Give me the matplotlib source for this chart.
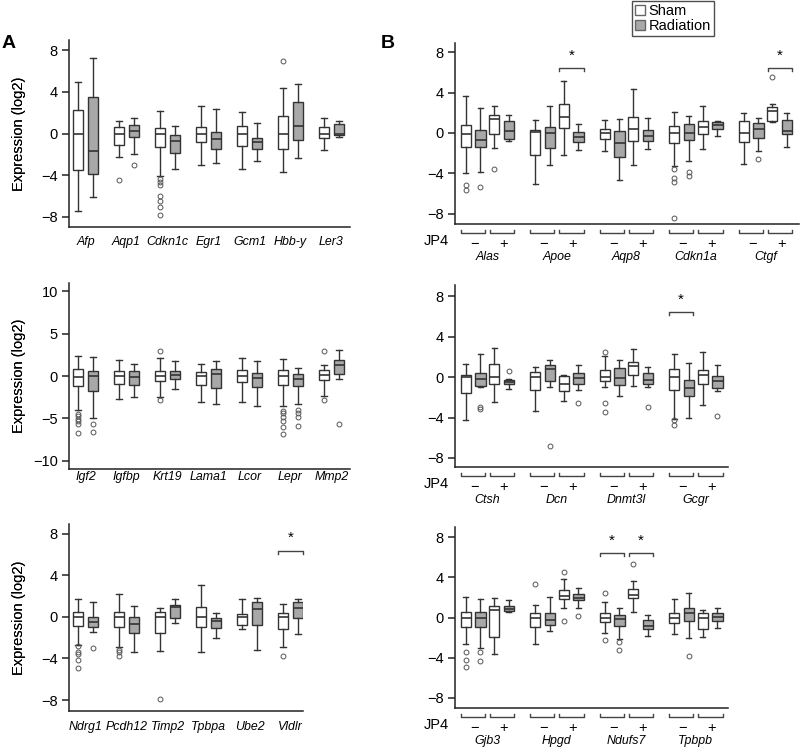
import numpy as np
import matplotlib
matplotlib.use("Agg")
import matplotlib.pyplot as plt
from matplotlib.patches import Patch
from matplotlib.transforms import blended_transform_factory

plt.rcParams['font.family'] = ['Liberation Sans', 'DejaVu Sans']

# ---- data: (whisker low, q1, median, q3, whisker high) ----
a1_genes = ["Afp", "Aqp1", "Cdkn1c", "Egr1", "Gcm1", "Hbb-y", "Ler3"]
a1_sham = [(-7.5, -3.5, 0, 2.3, 5.0), (-2.3, -1.06, 0, 0.64, 1.2), (-4.1, -1.34, 0, 0.5, 2.2),
           (-3.0, -0.86, 0, 0.6, 2.6), (-3.46, -1.18, 0, 0.74, 2.1), (-3.74, -1.5, 0, 1.7, 4.4),
           (-1.6, -0.42, 0, 0.64, 1.5)]
a1_sham_out = [[], [-4.45], [-4.4, -4.7, -5.0, -6.0, -6.5, -7.1, -7.8], [], [], [7.0], []]
a1_rad = [(-6.1, -3.9, -1.7, 3.5, 7.3), (-2.0, -0.32, 0.26, 0.86, 1.5), (-3.46, -1.9, -0.74, -0.1, 0.7),
          (-2.8, -1.54, -0.54, 0.16, 2.37), (-2.66, -1.5, -0.83, -0.42, 1.0), (-2.34, -0.58, 0.74, 3.0, 4.8),
          (-0.38, -0.16, -0.06, 0.9, 1.25)]
a1_rad_out = [[], [-3.04], [], [], [], [], []]

a2_genes = ["Igf2", "Igfbp", "Krt19", "Lama1", "Lcor", "Lepr", "Mmp2"]
a2_sham = [(-4.04, -1.18, -0.08, 0.78, 2.35), (-2.75, -0.9, 0, 0.63, 1.92), (-2.47, -0.63, 0, 0.55, 2.16),
           (-3.1, -1.02, 0, 0.47, 1.41), (-3.06, -0.75, 0, 0.75, 2.16), (-3.57, -1.02, 0, 0.7, 2.04),
           (-2.4, -0.5, 0.16, 0.75, 1.33)]
a2_sham_out = [[-4.5, -4.7, -5.1, -5.3, -5.7, -6.7], [], [2.94, -2.82], [], [],
               [-4.16, -4.35, -4.8, -5.3, -6.0, -6.8], [2.98, -2.86]]
a2_rad = [(-4.9, -1.76, -0.04, 0.55, 2.24), (-2.47, -1.1, -0.12, 0.59, 1.45), (-1.5, -0.31, 0.16, 0.55, 1.76),
          (-3.25, -1.41, 0.2, 0.78, 1.76), (-3.5, -1.3, -0.27, 0.35, 1.8), (-3.25, -1.18, -0.35, 0.27, 1.0),
          (-0.35, 0.27, 1.3, 1.92, 3.06)]
a2_rad_out = [[-5.6, -6.6], [], [], [], [], [-4.0, -4.35, -4.86, -5.84], [-5.7]]

a3_genes = ["Ndrg1", "Pcdh12", "Timp2", "Tpbpa", "Ube2", "Vldlr"]
a3_sham = [(-2.73, -0.84, 0, 0.51, 1.77), (-2.93, -0.93, 0, 0.51, 2.2), (-3.28, -1.58, 0, 0.48, 0.9),
           (-3.34, -0.96, 0, 0.93, 3.09), (-1.19, -0.8, 0, 0.26, 1.7), (-2.9, -1.19, 0, 0.42, 1.22)]
a3_sham_out = [[-2.8, -3.4, -3.57, -4.15, -4.9], [-3.2, -3.35, -3.8], [-7.94], [], [], [-3.8]]
a3_rad = [(-1.48, -1.0, -0.48, 0.03, 1.45), (-3.34, -1.58, -0.64, 0.03, 1.03), (-0.55, -0.13, 1.0, 1.19, 1.77),
          (-2.0, -1.03, -0.42, -0.06, 0.42), (-3.2, -0.74, 0.74, 1.48, 1.8), (-1.67, -0.1, 0.9, 1.48, 1.77)]
a3_rad_out = [[-3.0], [], [], [], [], []]
a3_sig = ["Vldlr"]

b1_genes = ["Alas", "Apoe", "Aqp8", "Cdkn1a", "Ctgf"]
b1_sham_neg = [(-3.95, -1.38, -0.07, 0.79, 3.62), (-5.03, -2.17, 0.1, 0.26, 1.32), (-1.74, -0.56, 0, 0.39, 1.28),
               (-3.29, -0.99, 0, 0.66, 2.1), (-3.06, -0.89, 0, 1.15, 1.97)]
b1_sham_neg_out = [[-5.1, -5.6], [], [], [-3.6, -4.4, -4.8, -8.4], []]
b1_rad_neg = [(-3.9, -1.38, -0.66, 0.26, 2.47), (-3.13, -1.45, 0, 0.63, 2.66), (-4.6, -2.37, -0.99, 0.16, 1.41),
              (-2.76, -0.69, 0, 0.92, 1.71), (-1.81, -0.49, 0.39, 0.99, 1.48)]
b1_rad_neg_out = [[-5.3], [], [], [-3.85, -4.28], [-2.57]]
b1_sham_pos = [(-1.48, -0.07, 1.38, 1.74, 2.63), (-2.14, 0.49, 1.55, 2.86, 5.16), (-3.16, -0.76, 0.39, 1.58, 4.34),
               (-1.55, -0.13, 0.59, 1.22, 2.7), (1.05, 1.15, 2.14, 2.57, 2.86)]
b1_sham_pos_out = [[-3.55], [], [], [], [5.49]]
b1_rad_pos = [(-0.82, -0.56, 0.23, 1.22, 1.74), (-1.71, -0.89, -0.36, 0.13, 0.89), (-1.55, -0.82, -0.26, 0.26, 1.48),
              (-0.3, 0.36, 0.79, 1.09, 1.22), (-1.41, -0.13, 0.23, 1.25, 1.97)]
b1_rad_pos_out = [[], [], [], [], []]
b1_sig = [("Apoe", "+"), ("Ctgf", "+")]

b2_genes = ["Ctsh", "Dcn", "Dnmt3l", "Gcgr"]
b2_sham_neg = [(-4.28, -1.58, 0, 0.23, 1.32), (-3.39, -1.32, 0, 0.49, 0.99), (-0.99, -0.43, 0, 0.66, 2.1),
               (-4.11, -1.25, 0, 0.76, 2.3)]
b2_sham_neg_out = [[], [], [2.47, -2.57, -3.49], [-4.28, -4.77]]
b2_rad_neg = [(-0.99, -0.89, -0.16, 0.43, 2.3), (-0.99, -0.39, 0.79, 1.18, 1.71), (-1.84, -0.82, -0.07, 0.89, 1.64),
              (-4.01, -1.91, -1.05, -0.26, 1.41)]
b2_rad_neg_out = [[-2.96, -3.13], [-6.8], [], []]
b2_sham_pos = [(-2.47, -0.66, 0, 1.32, 2.9), (-2.37, -1.38, -0.66, 0.07, 0.23), (-0.86, 0.16, 1.09, 1.51, 2.73),
               (-2.73, -0.72, 0.23, 0.72, 2.43)]
b2_sham_pos_out = [[], [], [], []]
b2_rad_pos = [(-1.22, -0.66, -0.49, -0.26, -0.2), (-1.32, -0.66, -0.13, 0.39, 1.18), (-0.95, -0.66, -0.26, 0.43, 0.99),
              (-1.38, -1.12, -0.43, 0.07, 1.18)]
b2_rad_pos_out = [[0.59], [-2.53], [-2.96], [-3.85]]
b2_sig = [("Gcgr", "-")]

b3_genes = ["Gjb3", "Hpgd", "Ndufs7", "Tpbpb"]
b3_sham_neg = [(-2.64, -0.92, 0, 0.56, 2.05), (-2.67, -0.92, 0, 0.4, 1.29), (-1.58, -0.43, 0, 0.46, 1.58),
               (-1.65, -0.59, 0, 0.46, 1.85)]
b3_sham_neg_out = [[-3.43, -4.22, -4.88], [3.3], [2.44, -2.24], []]
b3_rad_neg = [(-3.07, -0.92, 0, 0.56, 1.82), (-1.35, -0.79, -0.26, 0.46, 2.05), (-2.15, -0.83, -0.1, 0.2, 0.99),
              (-2.01, -0.33, 0.4, 0.92, 2.48)]
b3_rad_neg_out = [[-3.47, -4.29], [], [-2.48, -3.23], [-3.83]]
b3_sham_pos = [(-3.63, -1.91, 0.79, 1.12, 1.95), (0.99, 1.82, 2.18, 2.71, 3.83), (0.59, 1.91, 2.24, 2.84, 3.6),
               (-1.91, -1.19, 0, 0.46, 0.73)]
b3_sham_pos_out = [[], [4.49, -0.33], [5.35], []]
b3_rad_pos = [(0.5, 0.63, 0.89, 1.12, 1.78), (0.99, 1.72, 1.98, 2.38, 2.94), (-1.85, -1.16, -0.83, -0.26, 0.26),
              (-1.02, -0.33, 0.07, 0.4, 0.99)]
b3_rad_pos_out = [[], [0.13], [], []]
b3_sig = [("Ndufs7", "-"), ("Ndufs7", "+")]

# ---- style ----
W, H = 800, 749
EDGE = '#333333'
GRAY = '#a8a8a8'
FS = 10.5
GENE_FS = 8.9

fig = plt.figure(figsize=(W / 100, H / 100), dpi=100)


def add_ax(l, r, t, b, ylim, yticks):
    ax = fig.add_axes([l / W, 1 - b / H, (r - l) / W, (b - t) / H])
    ax.set_ylim(*ylim)
    ax.set_yticks(yticks)
    ax.set_xticks([])
    for s in ['top', 'right']:
        ax.spines[s].set_visible(False)
    for s in ['left', 'bottom']:
        ax.spines[s].set_color('#222222')
        ax.spines[s].set_linewidth(1.1)
    ax.tick_params(axis='y', length=5, width=1.1, pad=3, labelsize=FS, color='#222222')
    ax.set_ylabel("Expression (log2)", fontsize=FS)
    ax.yaxis.set_label_coords((26 - l) / (r - l), 0.5)
    return ax


def ypx(p):
    # figure inches from bottom for a pixel row counted from the top
    return (H - p) / 100


def draw_boxes(ax, centers, offsets, stat_sets, out_sets, fills, width):
    for off, stats, outs, fill in zip(offsets, stat_sets, out_sets, fills):
        bstats = [dict(whislo=s[0], q1=s[1], med=s[2], q3=s[3], whishi=s[4], fliers=o)
                  for s, o in zip(stats, outs)]
        ax.bxp(bstats, positions=centers + off, widths=width, capwidths=width * 0.5,
               patch_artist=True, manage_ticks=False,
               boxprops=dict(facecolor=fill, edgecolor=EDGE, linewidth=1.0),
               whiskerprops=dict(color=EDGE, linewidth=1.0),
               capprops=dict(color=EDGE, linewidth=1.0),
               medianprops=dict(color=EDGE, linewidth=1.2),
               flierprops=dict(marker='o', markersize=3.5, markerfacecolor='none',
                               markeredgecolor='#555555', markeredgewidth=0.7))


def sig_bracket(ax, x0, x1, y=6.4):
    ax.plot([x0, x0, x1, x1], [y - 0.3, y, y, y - 0.3], color='#444444', lw=1.0, clip_on=False)
    ax.text((x0 + x1) / 2, y + 0.55, "*", ha='center', va='bottom', fontsize=11)


def gene_labels(ax, centers, genes, p):
    tr = blended_transform_factory(ax.transData, fig.dpi_scale_trans)
    for c, g in zip(centers, genes):
        ax.text(c, ypx(p), g, transform=tr, ha='center', va='center', fontsize=GENE_FS,
                style='italic')


# ---- panel A ----
def panel_a(t, b, r, genes, sham, sham_out, rad, rad_out, ylim, yticks, label_px, sig=()):
    ax = add_ax(69, r, t, b, ylim, yticks)
    x = np.arange(len(genes), dtype=float)
    draw_boxes(ax, x, [-0.183, 0.183], [sham, rad], [sham_out, rad_out], ['white', GRAY], 0.26)
    ax.set_xlim(-0.402, (r - 85.5) / 41)
    gene_labels(ax, x, genes, b + label_px)
    for g in sig:
        i = genes.index(g)
        sig_bracket(ax, x[i] - 0.3, x[i] + 0.3)
    return ax


panel_a(40, 227, 350, a1_genes, a1_sham, a1_sham_out, a1_rad, a1_rad_out, (-9, 9), [-8, -4, 0, 4, 8], 15)
panel_a(283, 469, 350, a2_genes, a2_sham, a2_sham_out, a2_rad, a2_rad_out, (-10.95, 10.95), [-10, -5, 0, 5, 10], 8)
panel_a(524, 711, 303, a3_genes, a3_sham, a3_sham_out, a3_rad, a3_rad_out, (-9.06, 8.96), [-8, -4, 0, 4, 8], 16,
        sig=a3_sig)


# ---- panel B ----
def panel_b(t, b, r, genes, sets, outs, ylim, sig):
    ax = add_ax(455, r, t, b, ylim, [-8, -4, 0, 4, 8])
    x = np.arange(len(genes), dtype=float)
    draw_boxes(ax, x, [-0.31, -0.1, 0.1, 0.31], sets, outs, ['white', GRAY, 'white', GRAY], 0.15)
    ax.set_xlim(-0.465, (r - 487.3) / 69.5)
    tr = blended_transform_factory(ax.transData, fig.dpi_scale_trans)
    for c in x:
        for sgn, mid in (("\u2212", c - 0.21), ("+", c + 0.21)):
            x0, x1 = mid - 0.175, mid + 0.175
            ax.plot([x0, x0, x1, x1], [ypx(b + 6), ypx(b + 9), ypx(b + 9), ypx(b + 6)],
                    transform=tr, color='#444444', lw=1.0, clip_on=False)
            ax.text(mid + 0.02, ypx(b + 20), sgn, transform=tr, ha='center', va='center', fontsize=FS)
    ax.text(449 / 100, ypx(b + 17), "JP4", transform=fig.dpi_scale_trans,
            fontsize=FS, ha='right', va='center')
    gene_labels(ax, x, genes, b + 33)
    for g, s in sig:
        i = genes.index(g)
        mid = x[i] - 0.21 if s == "-" else x[i] + 0.21
        sig_bracket(ax, mid - 0.175, mid + 0.175)
    return ax


panel_b(43, 224, 799, b1_genes, [b1_sham_neg, b1_rad_neg, b1_sham_pos, b1_rad_pos],
        [b1_sham_neg_out, b1_rad_neg_out, b1_sham_pos_out, b1_rad_pos_out], (-8.99, 8.89), b1_sig)
panel_b(285, 467, 728, b2_genes, [b2_sham_neg, b2_rad_neg, b2_sham_pos, b2_rad_pos],
        [b2_sham_neg_out, b2_rad_neg_out, b2_sham_pos_out, b2_rad_pos_out], (-8.89, 9.09), b2_sig)
panel_b(527, 708, 728, b3_genes, [b3_sham_neg, b3_rad_neg, b3_sham_pos, b3_rad_pos],
        [b3_sham_neg_out, b3_rad_neg_out, b3_sham_pos_out, b3_rad_pos_out], (-9.0, 9.0), b3_sig)

# ---- panel letters and legend ----
fig.text(2 / W, 1 - 43 / H, "A", fontsize=14, fontweight='bold', va='center', ha='left')
fig.text(381 / W, 1 - 43 / H, "B", fontsize=14, fontweight='bold', va='center', ha='left')

handles = [Patch(facecolor='white', edgecolor='#666666', label='Sham'),
           Patch(facecolor=GRAY, edgecolor='#666666', label='Radiation')]
leg = fig.legend(handles=handles, loc='upper left', bbox_to_anchor=(632 / W, 1 - 1 / H),
                 fontsize=10.5, frameon=True, fancybox=False, handlelength=0.7, handleheight=0.7,
                 handletextpad=0.25, labelspacing=0.1, borderpad=0.2, borderaxespad=0)
leg.get_frame().set_edgecolor('#222222')
leg.get_frame().set_linewidth(1.0)

fig.savefig("out.png", dpi=100)
